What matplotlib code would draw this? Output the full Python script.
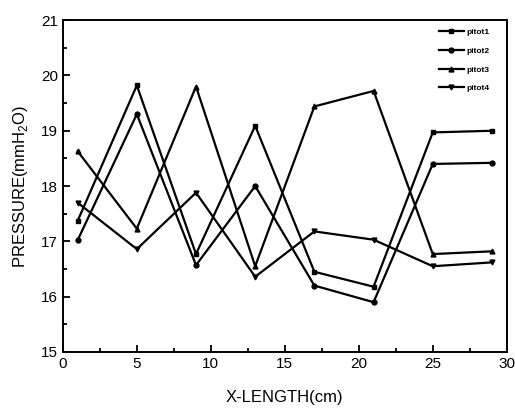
import numpy as np
import matplotlib
matplotlib.use("Agg")
import matplotlib.pyplot as plt
from matplotlib.ticker import MultipleLocator

plt.rcParams['font.family'] = ['Liberation Sans', 'DejaVu Sans']

# x positions of the pitot tubes (cm)
x_len = [1, 5, 9, 13, 17, 21, 25, 29]

# pressure readings (mmH2O)
pitot1 = [17.37, 19.82, 16.77, 19.09, 16.45, 16.18, 18.97, 19.00]
pitot2 = [17.02, 19.30, 16.57, 18.00, 16.20, 15.90, 18.40, 18.42]
pitot3 = [18.63, 17.23, 19.80, 16.55, 19.44, 19.72, 16.77, 16.82]
pitot4 = [17.70, 16.86, 17.88, 16.36, 17.18, 17.03, 16.55, 16.62]

series = [("pitot1", pitot1, "s"),
          ("pitot2", pitot2, "o"),
          ("pitot3", pitot3, "^"),
          ("pitot4", pitot4, "v")]

fig = plt.figure(figsize=(5.15, 4.2), dpi=100)
ax = fig.add_axes([0.122, 0.162, 0.862, 0.79])

for name, vals, mk in series:
    ax.plot(x_len, vals, color="black", lw=1.6, marker=mk, ms=3.5, label=name)

ax.set_xlim(0, 30)
ax.set_ylim(15, 21)
ax.xaxis.set_major_locator(MultipleLocator(5))
ax.xaxis.set_minor_locator(MultipleLocator(2.5))
ax.yaxis.set_major_locator(MultipleLocator(1))
ax.yaxis.set_minor_locator(MultipleLocator(0.5))
ax.tick_params(which="both", direction="in", width=1.3, labelsize=11)
ax.tick_params(which="major", length=5)
ax.tick_params(which="minor", length=3)
for sp in ax.spines.values():
    sp.set_linewidth(1.4)

ax.set_xlabel("X-LENGTH(cm)", fontsize=12, labelpad=14)
ax.set_ylabel("PRESSURE(mmH$_\\mathregular{2}$O)", fontsize=12, labelpad=8)

leg = ax.legend(loc="upper right", frameon=False,
                prop={"weight": "bold", "size": 6}, handlelength=3.0,
                labelspacing=1.3, borderaxespad=0.6, handletextpad=0.3,
                bbox_to_anchor=(0.98, 1.0))

fig.savefig("out.png", dpi=100)
